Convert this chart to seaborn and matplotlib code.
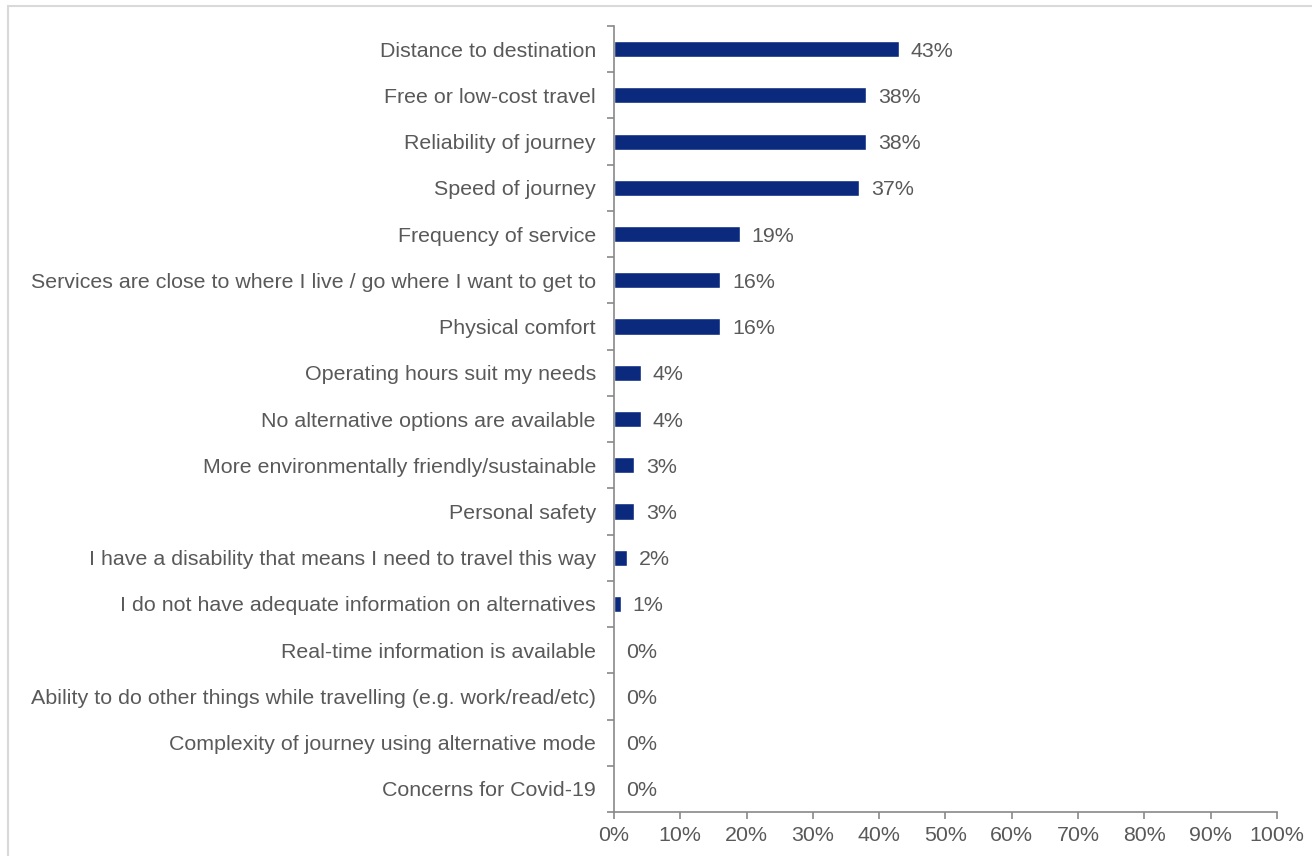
import matplotlib
matplotlib.use("Agg")
import matplotlib.pyplot as plt
import matplotlib.patches as mpatches
from matplotlib.ticker import FixedLocator, PercentFormatter
import seaborn as sns
import pandas as pd
import numpy as np

categories = [
    "Distance to destination",
    "Free or low-cost travel",
    "Reliability of journey",
    "Speed of journey",
    "Frequency of service",
    "Services are close to where I live / go where I want to get to",
    "Physical comfort",
    "Operating hours suit my needs",
    "No alternative options are available",
    "More environmentally friendly/sustainable",
    "Personal safety",
    "I have a disability that means I need to travel this way",
    "I do not have adequate information on alternatives",
    "Real-time information is available",
    "Ability to do other things while travelling (e.g. work/read/etc)",
    "Complexity of journey using alternative mode",
    "Concerns for Covid-19",
]
values = [43, 38, 38, 37, 19, 16, 16, 4, 4, 3, 3, 2, 1, 0, 0, 0, 0]
x_ticks = [0, 10, 20, 30, 40, 50, 60, 70, 80, 90, 100]

df = pd.DataFrame({"reason": categories, "share": values})

sns.set_theme(style="white")
plt.rcParams["font.family"] = ["Liberation Sans", "DejaVu Sans"]

text_color = "#595959"
axis_color = "#898989"
bar_color = "#0b2a7e"
fs = 15.4

fig = plt.figure(figsize=(13.12, 8.56), dpi=100)
ax = fig.add_axes([0.468, 0.0514, 0.5053, 0.9182])

sns.barplot(data=df, x="share", y="reason", orient="h", color=bar_color,
            width=0.35, saturation=1, ax=ax)

ax.set_xlim(0, 100)
ax.set_ylim(len(categories) - 0.5, -0.5)
ax.set_xlabel("")
ax.set_ylabel("")

ax.xaxis.set_major_locator(FixedLocator(x_ticks))
ax.xaxis.set_major_formatter(PercentFormatter(decimals=0))
ax.tick_params(axis="x", direction="out", length=5, width=1.2, color=axis_color,
               labelsize=fs, labelcolor=text_color, pad=5, bottom=True)

# Category labels on the major ticks; tick marks sit on category boundaries
ax.tick_params(axis="y", which="major", length=0, labelsize=fs,
               labelcolor=text_color, pad=13)
ax.yaxis.set_minor_locator(FixedLocator(np.arange(-0.5, len(categories), 1.0)))
ax.tick_params(axis="y", which="minor", direction="out", length=5, width=1.2,
               color=axis_color, left=True)

for side in ["top", "right"]:
    ax.spines[side].set_visible(False)
for side in ["left", "bottom"]:
    ax.spines[side].set_color(axis_color)
    ax.spines[side].set_linewidth(1.2)

for i, v in enumerate(values):
    ax.annotate(f"{v}%", xy=(v, i), xytext=(8.5, 0), textcoords="offset points",
                ha="left", va="center_baseline", fontsize=fs, color=text_color)

# light frame around the chart area
frame = mpatches.Rectangle((8 / 1312, -0.05), 1.2, (856 - 6) / 856 + 0.05,
                           transform=fig.transFigure, fill=False,
                           edgecolor="#d9d9d9", linewidth=1.5, clip_on=False)
fig.patches.append(frame)

fig.savefig("out.png", dpi=100)
